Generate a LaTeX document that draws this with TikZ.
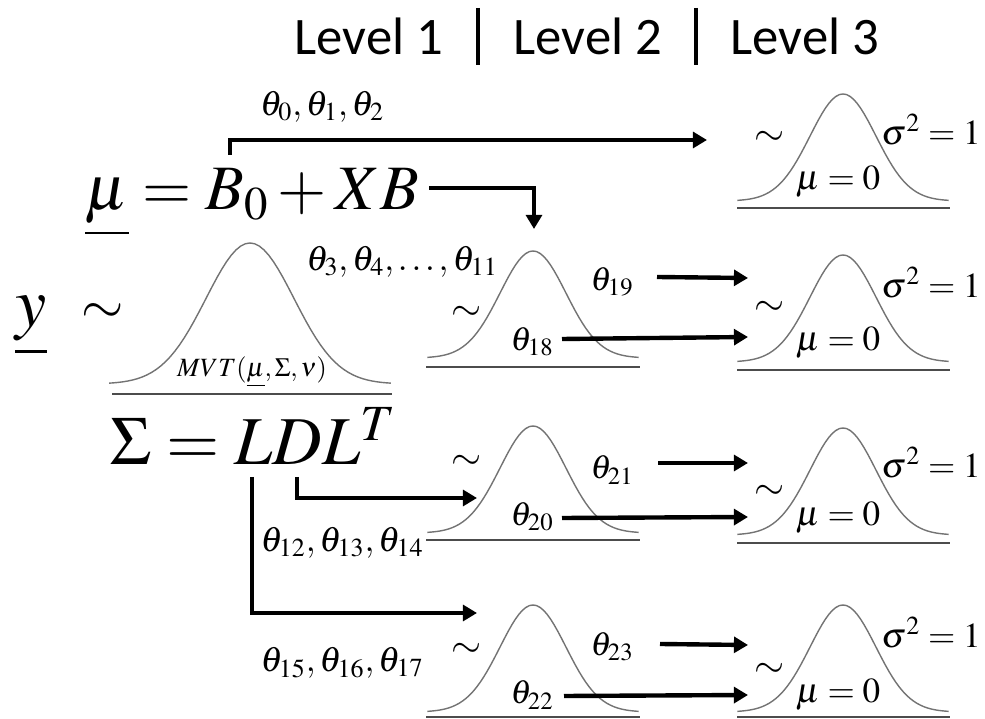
\documentclass[tikz,border=0pt]{standalone}
\usepackage{mathptmx}
\usepackage{fontspec}
\newfontfamily\hdrfont{Carlito}
\usetikzlibrary{arrows.meta}
\tikzset{
  hdr/.style={font=\hdrfont\fontsize{30}{36}\selectfont, anchor=base, inner sep=0pt},
  bigeq/.style={font=\fontsize{36}{40}\selectfont, anchor=base west, inner sep=0pt},
  thlab/.style={font=\fontsize{20}{24}\selectfont, inner sep=0pt},
  thone/.style={font=\fontsize{19}{23}\selectfont, inner sep=0pt},
  nlab/.style={font=\fontsize{20}{24}\selectfont, inner sep=0pt},
  simlab/.style={font=\fontsize{22}{26}\selectfont, inner sep=0pt},
  bell/.style={draw=black!55, line width=0.8pt},
  baseln/.style={draw=black!70, line width=0.9pt},
  arr/.style={line width=2.5pt, -{Triangle[length=8pt,width=9pt]}},
  sepbar/.style={line width=2.5pt},
}
\begin{document}
\begin{tikzpicture}[x=0.02cm, y=-0.02cm]
\useasboundingbox (0,0) rectangle (985,719);
% header
\node[hdr] (lev1) at (369,55) {Level 1};
\node[hdr] (lev2) at (588,55) {Level 2};
\node[hdr] (lev3) at (805,55) {Level 3};
\draw[sepbar] (478,8) -- (478,65);
\draw[sepbar] (696,8) -- (696,65);
% level 1
\node[font=\fontsize{40}{44}\selectfont, anchor=base, inner sep=0pt] (yvar) at (31,327) {$\underline{y}$};
\node[font=\fontsize{31}{34}\selectfont, inner sep=0pt] (ysim) at (103,314) {$\sim$};
\node[bigeq] (mueq) at (85,210) {$\underline{\mu} = B_0 + XB$};
\node[bigeq, font=\fontsize{39}{43}\selectfont] (sigeq) at (110,465) {$\Sigma = LDL^T$};
\draw[bell] plot[domain=-3.2:3.2, samples=61] ({250+44*\x},{384-141*exp(-(\x)*(\x)/2)});
\draw[baseln] (112,394) -- (392,394);
\node[font=\fontsize{15}{18}\selectfont, inner sep=0pt] (mvt) at (252,372) {$MVT(\underline{\mu},\Sigma,\nu)$};
\node[thlab] (th012) at (322,107) {$\theta_0,\theta_1,\theta_2$};
\node[thlab] (th311) at (402,262) {$\theta_3,\theta_4,\ldots,\theta_{11}$};
\node[thlab] (th1214) at (342,543) {$\theta_{12},\theta_{13},\theta_{14}$};
\node[thlab] (th1517) at (342,663) {$\theta_{15},\theta_{16},\theta_{17}$};
% level 1 -> level 2 and 3
\coordinate (b0top) at (230,155);
\coordinate (xbend) at (429,188);
\coordinate (dbot) at (297,477);
\coordinate (lbot) at (252,477);
\coordinate (in3a) at (707,140);
\coordinate (in2b) at (534,229);
\coordinate (in2c) at (477,498);
\coordinate (in2d) at (477,613);
\draw[arr] (b0top) |- (in3a);
\draw[arr] (xbend) -| (in2b);
\draw[arr] (dbot) |- (in2c);
\draw[arr] (lbot) |- (in2d);
% level 2
\foreach \i/\ty/\by/\sy/\uy/\ly/\ka/\kb in {b/358/367/313/282/342/19/18,
    c/533/540/462/470/517/21/20, d/712/717/650/647/695/23/22}{
  \draw[bell] plot[domain=-3.2:3.2, samples=61] ({533+33*\x},{\ty-107*exp(-(\x)*(\x)/2)});
  \draw[baseln] (426,\by) -- (640,\by);
  \node[simlab] (sim2\i) at (467,\sy) {$\sim$};
  \node[thone] (thu\i) at (612,\uy) {$\theta_{\ka}$};
  \node[thone] (thl\i) at (532,\ly) {$\theta_{\kb}$};
}
% level 3
\foreach \i/\ty/\by/\sy/\vy/\my in {a/201/208/138/130/182, b/362/370/308/283/343,
    c/535/543/492/463/518, d/712/717/670/633/695}{
  \draw[bell] plot[domain=-3.2:3.2, samples=61] ({843+33*\x},{\ty-107*exp(-(\x)*(\x)/2)});
  \draw[baseln] (737,\by) -- (950,\by);
  \node[simlab] (sim3\i) at (770,\sy) {$\sim$};
  \node[nlab] (var3\i) at (931,\vy) {$\sigma^2 = 1$};
  \node[nlab] (mean3\i) at (838,\my) {$\mu = 0$};
}
% level 2 -> level 3
\foreach \k/\sx/\sy/\ey in {19/657/277/278, 18/562/339/337, 21/658/463/463,
    20/562/518/517, 23/660/644/645, 22/564/696/695}{
  \coordinate (s\k) at (\sx,\sy);
  \coordinate (e\k) at (748,\ey);
  \draw[arr] (s\k) -- (e\k);
}
\end{tikzpicture}
\end{document}
